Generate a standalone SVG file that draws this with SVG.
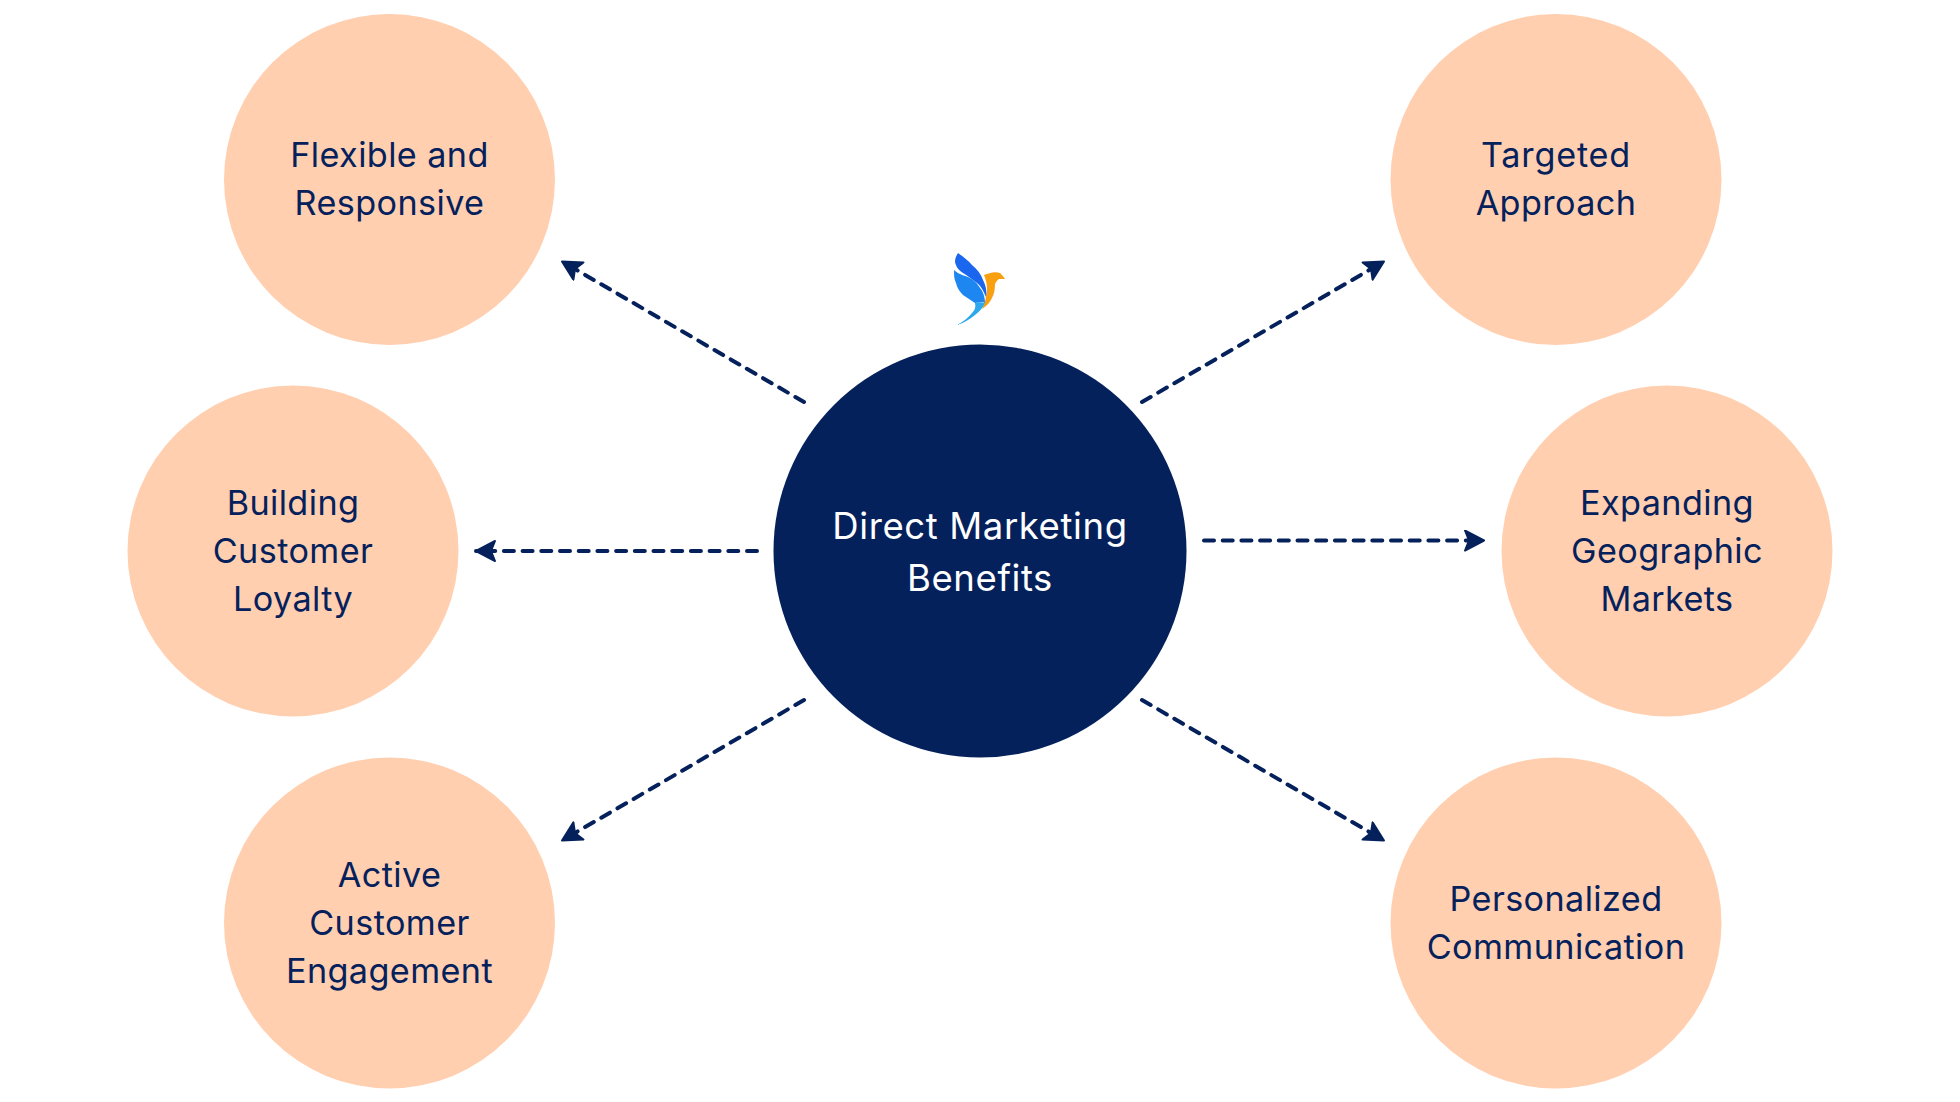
<svg xmlns="http://www.w3.org/2000/svg" width="1960" height="1102" viewBox="0 0 1960 1102">
<style>
.n{fill:#ffcfb0}
.c{fill:#05215c}
text{font-family:Inter,"Noto Sans",sans-serif;text-anchor:middle;letter-spacing:.4px}
.t{font-size:34.2px;fill:#05215c}
.w{font-size:36.5px;fill:#fff;letter-spacing:.6px}
.l{fill:none;stroke:#05215c;stroke-width:4;stroke-linecap:round;stroke-dasharray:10 8.7}
</style>
<defs><marker id="a" markerUnits="userSpaceOnUse" markerWidth="26" markerHeight="26" refX="20" refY="11" orient="auto"><path d="M1 1 L20 11 L1 21 L5 11Z" fill="#05215c" stroke="#05215c" stroke-width="2" stroke-linejoin="round"/></marker></defs>
<rect width="1960" height="1102" fill="#fff"/>
<g id="connectors">
<path class="l" marker-end="url(#a)" d="M804 402 L562 261.500"/>
<path class="l" marker-end="url(#a)" d="M1142 402 L1384 261.500"/>
<path class="l" marker-end="url(#a)" d="M757 551 L476 551"/>
<path class="l" marker-end="url(#a)" d="M1204 540.500 L1484 540.500"/>
<path class="l" marker-end="url(#a)" d="M804 700 L562 840.500"/>
<path class="l" marker-end="url(#a)" d="M1142 700 L1384 840.500"/>
</g>
<g id="logo">
<path fill="#f9a011" d="M984 275 C989 273 995 271 1000 273 C1002 275 1004 277 1005 279 L999 279 C997 280 996 282 995 284 C995 290 994 294 992 298 C990 302 987 306 982 309 C984 304 986 300 986 296 C988 290 987 282 984 275Z"/>
<path fill="#1a66ee" d="M958 253 C962 256 968 260 972 265 C977 269 981 274 983 280 C986 286 987 291 986 297 C983 290 981 286 977 283 C972 279 968 276 963 273 C958 270 956 266 955 262 C955 259 956 256 958 253Z"/>
<path fill="#1d86f0" d="M954 270 C958 274 963 275 968 277 C973 279 978 284 980 288 C983 291 985 297 985 303 C982 301 979 303 975 303 C971 300 967 298 963 295 C960 292 957 288 956 283 C954 279 954 275 954 270Z"/>
<path fill="#2ba8ee" d="M975 303 C979 302 982 302 985 303 C983 308 979 312 975 315 C970 319 964 323 957 325 C963 322 968 318 972 313 C975 310 976 307 975 303Z"/>
</g>
<g id="center"><circle class="c" cx="980" cy="551" r="206.500"/><text class="w" x="980" y="539">Direct Marketing</text><text class="w" x="980" y="590.500">Benefits</text></g>
<g id="flexible"><circle class="n" cx="389.500" cy="179.500" r="165.500"/><text class="t" x="389.500" y="167">Flexible and</text><text class="t" x="389.500" y="214.500">Responsive</text></g>
<g id="building"><circle class="n" cx="293" cy="551" r="165.500"/><text class="t" x="293" y="515">Building</text><text class="t" x="293" y="563">Customer</text><text class="t" x="293" y="611">Loyalty</text></g>
<g id="active"><circle class="n" cx="389.500" cy="923" r="165.500"/><text class="t" x="389.500" y="887">Active</text><text class="t" x="389.500" y="935">Customer</text><text class="t" x="389.500" y="983">Engagement</text></g>
<g id="targeted"><circle class="n" cx="1556" cy="179.500" r="165.500"/><text class="t" x="1556" y="167" style="letter-spacing:.8px">Targeted</text><text class="t" x="1556" y="214.500">Approach</text></g>
<g id="expanding"><circle class="n" cx="1667" cy="551" r="165.500"/><text class="t" x="1667" y="515">Expanding</text><text class="t" x="1667" y="563">Geographic</text><text class="t" x="1667" y="611">Markets</text></g>
<g id="personalized"><circle class="n" cx="1556" cy="923" r="165.500"/><text class="t" x="1556" y="911">Personalized</text><text class="t" x="1556" y="959">Communication</text></g>
</svg>
